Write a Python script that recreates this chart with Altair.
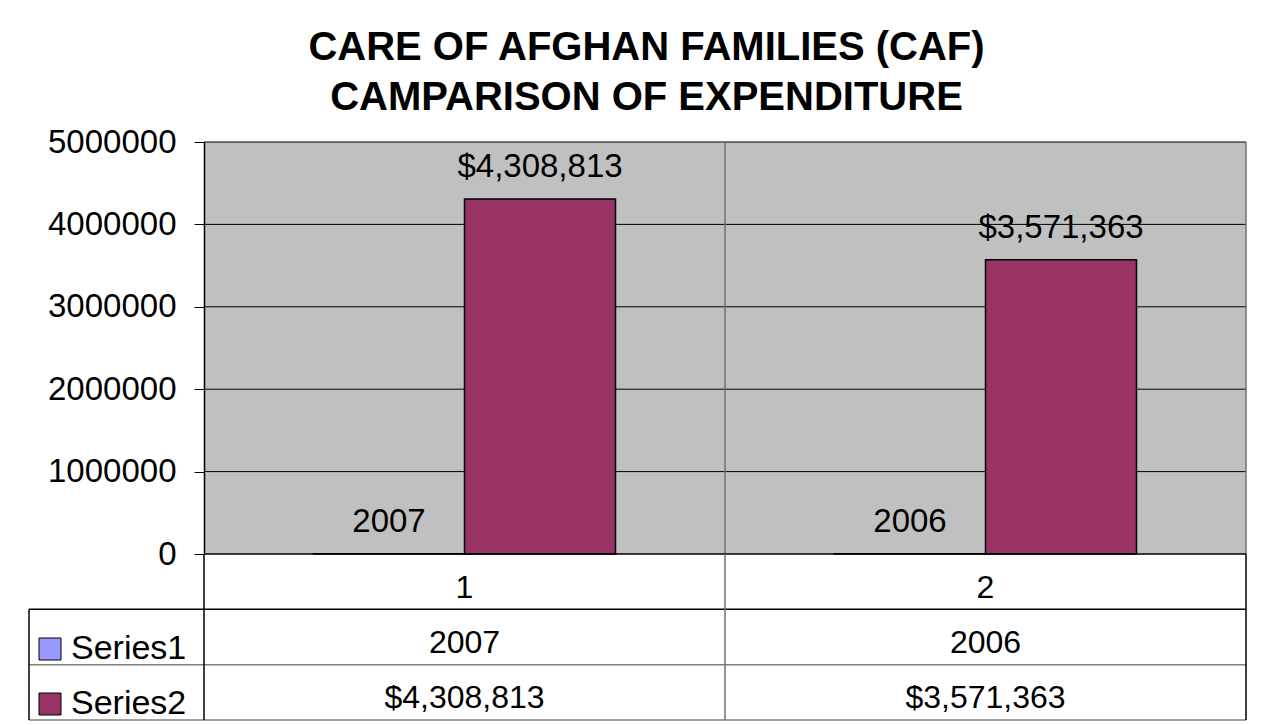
import altair as alt
import pandas as pd

# ---------------- data ----------------
categories = ["1", "2"]
series_names = ["Series1", "Series2"]
series1 = [2007, 2006]
series2 = [4308813, 3571363]
y_ticks = [0, 1000000, 2000000, 3000000, 4000000, 5000000]
title_lines = ["CARE OF AFGHAN FAMILIES (CAF)", "CAMPARISON OF EXPENDITURE"]
colors = ["#9999FF", "#993366"]

# ---------------- layout ----------------
FONT = "Liberation Sans"
PLOT_W, PLOT_H = 1042, 412
LEG_W = 175
TABLE_H = 166
W = PLOT_W + LEG_W
H = PLOT_H + TABLE_H
n = len(categories)
cat_w = PLOT_W / n
x_left = -LEG_W / cat_w
bar_frac = 151 / cat_w
y_max = y_ticks[-1]

x_scale = alt.Scale(domain=[x_left, n], nice=False, zero=False)
yp_scale = alt.Scale(domain=[0, y_max], range=[PLOT_H, 0], nice=False, zero=False)
yt_scale = alt.Scale(domain=[0, 3], range=[PLOT_H, H], nice=False, zero=False)

values_by_series = [series1, series2]


def fmt(s, v):
    return str(v) if s == 0 else f"${v:,}"


bar_rows = []
for i, c in enumerate(categories):
    center = i + 0.5
    for s, name in enumerate(series_names):
        v = values_by_series[s][i]
        x0 = center - bar_frac if s == 0 else center
        x1 = x0 + bar_frac
        bar_rows.append(dict(cat=c, series=name, value=v, base=0, x0=x0, x1=x1,
                             xm=(x0 + x1) / 2, label=fmt(s, v)))
bars_df = pd.DataFrame(bar_rows)

bg_df = pd.DataFrame([dict(x0=0, x1=n, y0=0, y1=y_max)])
grid_df = pd.DataFrame([dict(y=t, x0=0, x1=n) for t in y_ticks[1:]])
vsep_df = pd.DataFrame([dict(x=k, y0=0, y1=y_max) for k in range(1, n + 1)])

hl = [dict(y=0, x0=0, x1=n, c="black"),
      dict(y=1, x0=x_left, x1=n, c="black"),
      dict(y=2, x0=x_left, x1=n, c="#808080"),
      dict(y=3, x0=x_left, x1=n, c="#808080")]
hl_df = pd.DataFrame(hl)
vl = [dict(x=x_left, y0=1, y1=3, c="black"), dict(x=0, y0=0, y1=3, c="black")]
vl += [dict(x=k, y0=0, y1=3, c="#707070") for k in range(1, n)]
vl += [dict(x=n, y0=0, y1=3, c="black")]
vl_df = pd.DataFrame(vl)

tt = []
for i, c in enumerate(categories):
    tt.append(dict(x=i + 0.5, y=0.5, t=c))
    for s in range(len(series_names)):
        tt.append(dict(x=i + 0.5, y=s + 1.5, t=fmt(s, values_by_series[s][i])))
tt_df = pd.DataFrame(tt)

# ---------------- layers ----------------
bg = alt.Chart(bg_df).mark_rect(fill="#C0C0C0").encode(
    x=alt.X("x0:Q", scale=x_scale, axis=None), x2="x1",
    y=alt.Y("y0:Q", scale=yp_scale,
            axis=alt.Axis(values=y_ticks, format="d", offset=-LEG_W, grid=False,
                          title=None, tickSize=10, tickColor="black", tickWidth=1,
                          domainColor="black", domainWidth=1.5, labelFontSize=33,
                          labelFont=FONT, labelColor="black", labelPadding=18,
                          zindex=1)),
    y2="y1",
)

grid = alt.Chart(grid_df).mark_rule(color="black", strokeWidth=1).encode(
    x=alt.X("x0:Q", scale=x_scale, axis=None), x2="x1",
    y=alt.Y("y:Q", scale=yp_scale, axis=None),
)

vsep = alt.Chart(vsep_df).mark_rule(color="#707070", strokeWidth=1.5).encode(
    x=alt.X("x:Q", scale=x_scale, axis=None),
    y=alt.Y("y0:Q", scale=yp_scale, axis=None), y2="y1",
)

bars = alt.Chart(bars_df).mark_bar(stroke="black", strokeWidth=1.5).encode(
    x=alt.X("x0:Q", scale=x_scale, axis=None), x2="x1",
    y=alt.Y("value:Q", scale=yp_scale, axis=None), y2="base",
    color=alt.Color("series:N", scale=alt.Scale(domain=series_names, range=colors),
                    legend=alt.Legend(orient="none", legendX=4, legendY=490,
                                      title=None, symbolType="square",
                                      symbolSize=484, symbolStrokeColor="black",
                                      symbolStrokeWidth=1, labelFontSize=34,
                                      labelFont=FONT, labelColor="black",
                                      labelOffset=4, rowPadding=21)),
)

labels = alt.Chart(bars_df).mark_text(fontSize=33, font=FONT, color="black",
                                      baseline="alphabetic", dy=-22).encode(
    x=alt.X("xm:Q", scale=x_scale, axis=None),
    y=alt.Y("value:Q", scale=yp_scale, axis=None),
    text="label:N",
)

hlines = alt.Chart(hl_df).mark_rule(strokeWidth=1.5).encode(
    x=alt.X("x0:Q", scale=x_scale, axis=None), x2="x1",
    y=alt.Y("y:Q", scale=yt_scale, axis=None),
    color=alt.Color("c:N", scale=None),
)

vlines = alt.Chart(vl_df).mark_rule(strokeWidth=1.5).encode(
    x=alt.X("x:Q", scale=x_scale, axis=None),
    y=alt.Y("y0:Q", scale=yt_scale, axis=None), y2="y1",
    color=alt.Color("c:N", scale=None),
)

ttext = alt.Chart(tt_df).mark_text(fontSize=32, font=FONT, color="black",
                                   baseline="middle", dy=6).encode(
    x=alt.X("x:Q", scale=x_scale, axis=None),
    y=alt.Y("y:Q", scale=yt_scale, axis=None),
    text="t:N",
)

chart = alt.layer(bg, grid, vsep, bars, labels, hlines, vlines, ttext).resolve_scale(
    y="independent"
).properties(
    width=W, height=H,
    title=alt.TitleParams(text=title_lines, fontSize=40, font=FONT, fontWeight="bold",
                          color="black", anchor="middle", dx=9, lineHeight=50,
                          offset=8),
    padding={"left": 20, "top": 20, "right": 10, "bottom": 0},
    background="white",
).configure_view(stroke=None)

chart.save("out.html", embed_options={"renderer": "svg", "actions": False})
